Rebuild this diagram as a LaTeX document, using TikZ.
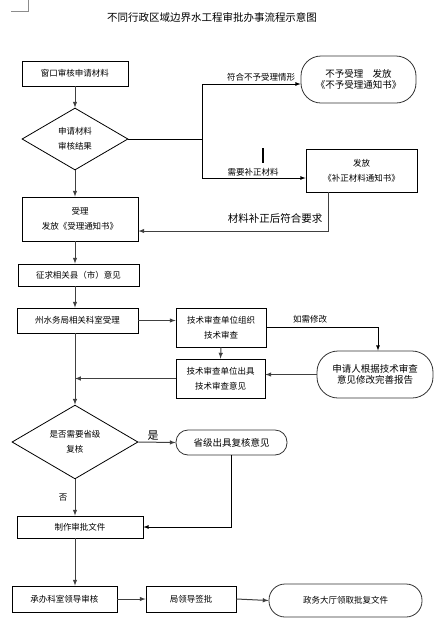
\documentclass[tikz,border=0pt]{standalone}
\usepackage{fontspec}
\setmainfont{Noto Sans CJK SC}
\usepackage{tikz}
\usetikzlibrary{shapes.geometric}
\usetikzlibrary{calc}

\tikzset{
  >=latex,
  box/.style={draw, line width=0.8pt, inner sep=0pt, align=center, font=\fontsize{8.5}{15}\selectfont},
  roundbox/.style={draw=black!80, line width=0.8pt, rounded corners=#1, inner sep=0pt, align=center, font=\fontsize{9.5}{11}\selectfont},
  roundbox/.default=12pt,
  decision/.style={draw, diamond, line width=0.8pt, inner sep=0pt, align=center, font=\fontsize{8.5}{15}\selectfont},
  flow/.style={draw=black!75, line width=1pt},
  note/.style={font=\fontsize{8.5}{10}\selectfont}
}

\begin{document}
\begin{tikzpicture}[x=1pt, y=-1pt]
            \useasboundingbox (0,0) rectangle (441,625);

            % Page corner mark
            \draw[black!45, line width=0.6pt] (28,0) -- (28,11) -- (11,11);

            % Title
            \node[font=\fontsize{10.5}{12}\selectfont] (title) at (212,17) {不同行政区域边界水工程审批办事流程示意图};

            % Window check
            \node[box, minimum width=106, minimum height=25] (window) at (75,73.5) {窗口审核申请材料};
            \node[decision, minimum width=106, minimum height=62] (check) at (75,139) {申请材料\\审核结果};

            % Not accepted / supplement
            \node[roundbox=20pt, minimum width=115, minimum height=47] (reject) at (358.5,79.5) {不予受理\quad 发放\\《不予受理通知书》};
            \node[box, minimum width=111, minimum height=43] (supply) at (361.5,170.5) {发放\\《补正材料通知书》};

            % Accepted
            \node[box, minimum width=116, minimum height=44] (accept) at (80,219) {受理\\发放《受理通知书》};
            \node[box, minimum width=121, minimum height=22] (county) at (78.5,275) {征求相关县（市）意见};
            \node[box, minimum width=121, minimum height=25] (bureau) at (77.5,320.5) {州水务局相关科室受理};

            % Technical review
            \node[box, minimum width=90, minimum height=39] (review) at (221,327.5) {技术审查单位组织\\技术审查};
            \node[box, minimum width=89, minimum height=39] (opinion) at (220.5,378.5) {技术审查单位出具\\技术审查意见};
            \node[roundbox=21pt, minimum width=116, minimum height=47] (revise) at (375,374.5) {申请人根据技术审查\\意见修改完善报告};

            % Provincial check
            \node[decision, minimum width=126, minimum height=62] (prov) at (75,442) {是否需要省级\\复核};
            \node[roundbox, minimum width=111, minimum height=25] (provop) at (231.5,442.5) {省级出具复核意见};

            % Approval documents
            \node[box, minimum width=126, minimum height=22] (make) at (80,527) {制作审批文件};
            \node[box, minimum width=105, minimum height=26] (dept) at (64.5,599) {承办科室领导审核};
            \node[box, minimum width=90, minimum height=26] (lead) at (191,599) {局领导签批};
            \node[roundbox=16pt, minimum width=153, minimum height=33] (hall) at (345.5,600.5) {\fontsize{8.5}{10}\selectfont 政务大厅领取批复文件};

            % Branch after check
            \coordinate (jtop) at (202,84);
            \coordinate (jbot) at (202,178);
            \draw[->, flow] (window.south) -- (check.north);
            \draw[line width=0.8pt] (check.east) -- (check.east -| jtop);
            \draw[line width=0.8pt] (jtop) -- (jbot);
            \draw[->, line width=0.8pt] (jtop) -- (jtop -| reject.west);
            \draw[->, line width=0.8pt] (jbot) -- (jbot -| supply.west);
            \node[note] (lreject) at (261,77) {符合不予受理情形};
            \node[note] (lsupply) at (253,172) {需要补正材料};
            \draw[line width=1.2pt] (263,148) -- (263,163);

            % Back after supplement
            \coordinate (sback) at (328,231);
            \draw[->, flow] (supply.south -| sback) -- (sback) -- (sback -| accept.east);
            \node[font=\fontsize{10.5}{12}\selectfont] (lback) at (275,218) {材料补正后符合要求};

            % Main line
            \draw[->, flow] (check.south) -- (check.south |- accept.north);
            \draw[->, flow] (check.south |- accept.south) -- (check.south |- county.north);
            \draw[->, flow] (check.south |- county.south) -- (check.south |- bureau.north);
            \draw[->, flow] (bureau.east) -- (bureau.east -| review.west);
            \draw[->, flow] (review.south) -- (opinion.north);
            \draw[->, line width=0.8pt] (review.east) -| (revise.north -| 378,0);
            \node[note] (lrevise) at (310,319) {如需修改};
            \draw[->, flow] (revise.west) -- (revise.west -| opinion.east);
            \draw[->, flow] (opinion.west) -- (opinion.west -| prov.north);
            \draw[->, flow] (check.south |- bureau.south) -- (prov.north);

            % Provincial branch
            \draw[->, flow] (prov.east) -- (provop.west);
            \node[font=\fontsize{11}{12}\selectfont] (lyes) at (153,436) {是};
            \draw[->, line width=0.8pt] (provop.south) |- (make.east);
            \draw[->, flow] (prov.south) -- (prov.south |- make.north);
            \node[note] (lno) at (63,498) {否};

            % Signing
            \draw[->, flow] (prov.south |- make.south) -- (prov.south |- dept.north);
            \draw[->, flow] (dept.east) -- (lead.west);
            \draw[->, flow] (lead.east) -- (hall.west);

\end{tikzpicture}
\end{document}
